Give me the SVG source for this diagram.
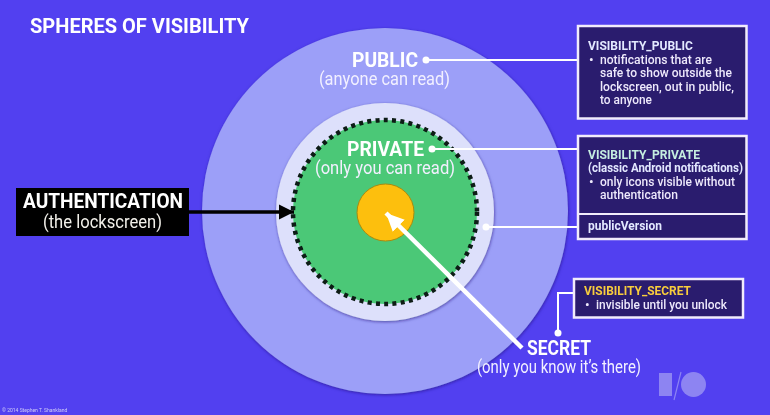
<svg xmlns="http://www.w3.org/2000/svg" width="770" height="415" viewBox="0 0 770 415">
<defs>
<filter id="sh" x="-10%" y="-10%" width="120%" height="120%"><feDropShadow dx="0.5" dy="1" stdDeviation="1.5" flood-color="#1c1470" flood-opacity="0.6"/></filter>
<filter id="soft" x="-2%" y="-2%" width="104%" height="104%"><feGaussianBlur stdDeviation="0.35"/></filter>
<marker id="ab" markerUnits="userSpaceOnUse" markerWidth="16" markerHeight="18" refX="15" refY="9" orient="auto"><path d="M0 1.5L15 9L0 16.5Z" fill="#000"/></marker>
<marker id="aw" markerUnits="userSpaceOnUse" markerWidth="20" markerHeight="20" refX="18" refY="10" orient="auto"><path d="M0 1.5L18 10L0 18.5Z" fill="#fff"/></marker>
</defs>
<style>
text{font-family:Roboto,"Liberation Sans",sans-serif}
.h{font-weight:700;fill:#fff;font-size:21px}
.s{fill:#f2f0ff;font-size:18px}
.box{fill:#2a1a6e;stroke:#f1ecfb;stroke-width:2.5}
.t{font-size:13px;fill:#ede9fb;font-weight:500}
.b{font-size:13px;fill:#e3e9ff;font-weight:700}
.ln{stroke:#fff;stroke-width:2;fill:none}
.ld{fill:#fff}
</style>
<rect width="770" height="415" fill="#5240f0"/>
<g filter="url(#soft)">
<text x="30" y="33" font-size="20" font-weight="700" fill="#fff" textLength="219" lengthAdjust="spacingAndGlyphs">SPHERES OF VISIBILITY</text>
<g id="public">
<circle cx="385" cy="211" r="183" fill="#9c9ff8" filter="url(#sh)"/>
<text class="h" x="352" y="67" textLength="66" lengthAdjust="spacingAndGlyphs">PUBLIC</text>
<text class="s" x="319" y="85" textLength="131" lengthAdjust="spacingAndGlyphs">(anyone can read)</text>
</g>
<g id="publicVersionRing">
<circle cx="385" cy="212" r="109" fill="#dde0fb" filter="url(#sh)"/>
</g>
<g id="private">
<circle cx="385" cy="212" r="92" fill="#4cc877" stroke="#0a1a12" stroke-width="4.5" stroke-dasharray="4 4.3"/>
<text class="h" x="347" y="156" textLength="77" lengthAdjust="spacingAndGlyphs">PRIVATE</text>
<text class="s" x="315" y="174" textLength="140" lengthAdjust="spacingAndGlyphs">(only you can read)</text>
</g>
<g id="secretCore">
<circle cx="385.5" cy="212.5" r="28.5" fill="#fdbf0a" stroke="#a88a10" stroke-width="1"/>
</g>
<g id="connectors">
<path class="ln" d="M426 60H578"/><circle class="ld" cx="426" cy="60" r="3.5"/>
<path class="ln" d="M432 149H578"/><circle class="ld" cx="432" cy="149" r="3.5"/>
<path class="ln" d="M486 227H578"/><circle class="ld" cx="486" cy="227" r="3.5"/>
<path class="ln" d="M558 333V293H574"/><circle class="ld" cx="558" cy="333" r="3.5"/>
<path d="M185 212H294" stroke="#000" stroke-width="3.5" fill="none" marker-end="url(#ab)"/>
<path d="M522 348L386 213" stroke="#fff" stroke-width="4.5" fill="none" marker-end="url(#aw)"/>
</g>
<g id="authentication">
<rect x="16" y="188" width="173" height="48" fill="#000"/>
<text x="23" y="208" font-size="20" font-weight="700" fill="#fff" textLength="160" lengthAdjust="spacingAndGlyphs">AUTHENTICATION</text>
<text x="43" y="228" font-size="17.5" fill="#f2f0ea" textLength="119" lengthAdjust="spacingAndGlyphs">(the lockscreen)</text>
</g>
<g id="visibilityPublic">
<rect class="box" x="578" y="26" width="168.500" height="92.500"/>
<text class="b" x="588" y="50" textLength="105" lengthAdjust="spacingAndGlyphs">VISIBILITY_PUBLIC</text>
<text class="t" x="589" y="64">•</text>
<text class="t" x="600" y="64" textLength="112" lengthAdjust="spacingAndGlyphs">notifications that are</text>
<text class="t" x="600" y="77" textLength="132" lengthAdjust="spacingAndGlyphs">safe to show outside the</text>
<text class="t" x="600" y="91" textLength="134" lengthAdjust="spacingAndGlyphs">lockscreen, out in public,</text>
<text class="t" x="600" y="104" textLength="52" lengthAdjust="spacingAndGlyphs">to anyone</text>
</g>
<g id="visibilityPrivate">
<rect class="box" x="578" y="136" width="168.500" height="103"/>
<path d="M578 214H746" stroke="#f1ecfb" stroke-width="2"/>
<text class="b" x="588" y="159" style="fill:#c5eee0" textLength="112" lengthAdjust="spacingAndGlyphs">VISIBILITY_PRIVATE</text>
<text class="b" x="588" y="172" textLength="155" lengthAdjust="spacingAndGlyphs">(classic Android notifications)</text>
<text class="t" x="589" y="186">•</text>
<text class="t" x="600" y="186" textLength="135" lengthAdjust="spacingAndGlyphs">only icons visible without</text>
<text class="t" x="600" y="199" textLength="78" lengthAdjust="spacingAndGlyphs">authentication</text>
<text class="b" x="588" y="230" textLength="74" lengthAdjust="spacingAndGlyphs">publicVersion</text>
</g>
<g id="visibilitySecret">
<rect class="box" x="574" y="279" width="169" height="38.500"/>
<text class="b" x="584" y="295" style="fill:#f8cd3c" textLength="107" lengthAdjust="spacingAndGlyphs">VISIBILITY_SECRET</text>
<text class="t" x="585" y="309">•</text>
<text class="t" x="596" y="309" textLength="131" lengthAdjust="spacingAndGlyphs">invisible until you unlock</text>
</g>
<g id="secret">
<text class="h" x="527" y="355" textLength="64" lengthAdjust="spacingAndGlyphs">SECRET</text>
<text class="s" x="477" y="373" textLength="164" lengthAdjust="spacingAndGlyphs">(only you know it’s there)</text>
</g>
<g id="io">
<rect x="659" y="373" width="13" height="23" fill="#8d84f2"/>
<path d="M681 372L674 400" stroke="#8d84f2" stroke-width="1.2"/>
<circle cx="693.500" cy="384.500" r="12.500" fill="#8d84f2"/>
</g>
<text x="2" y="412" font-size="5" fill="#cfcbf8" font-family="Liberation Sans">© 2014 Stephen T. Shankland</text>
</g>
</svg>
